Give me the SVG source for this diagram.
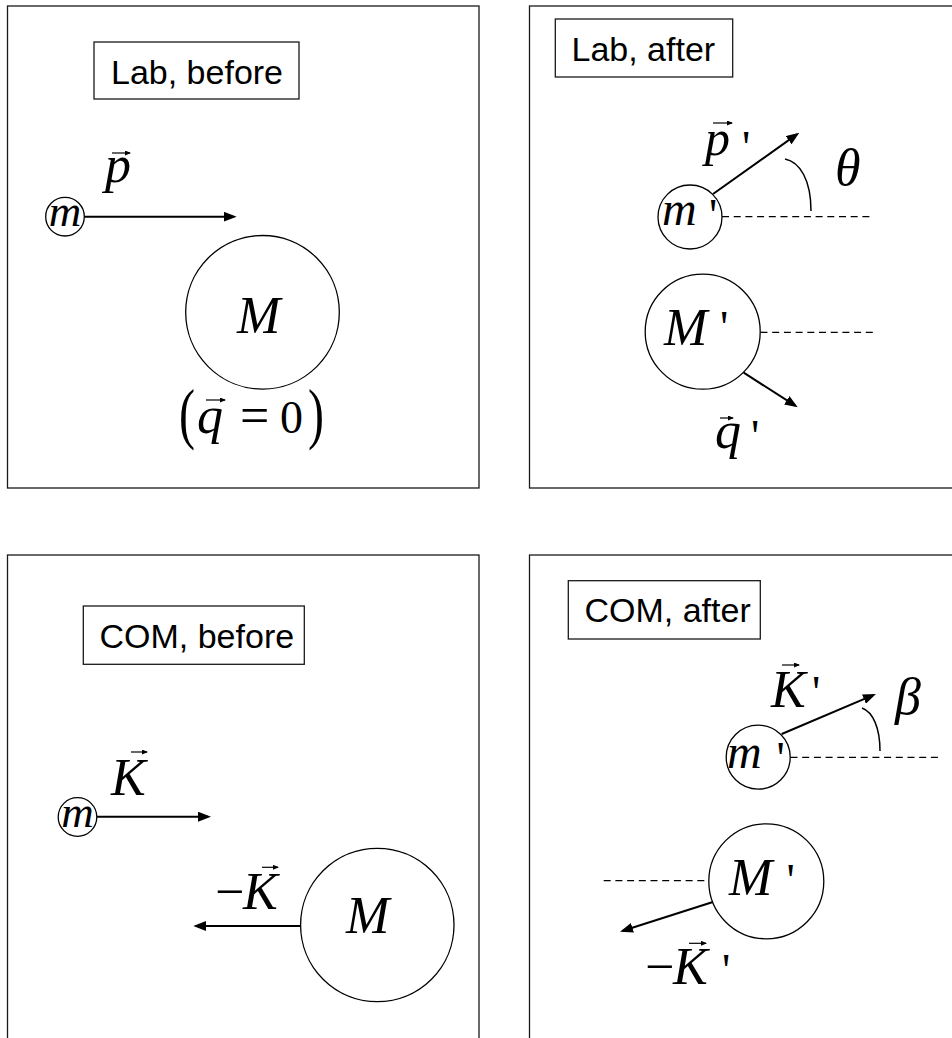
<svg xmlns="http://www.w3.org/2000/svg" width="952" height="1038" viewBox="0 0 952 1038">
<style>
.frame{fill:none;stroke:#1a1a1a;stroke-width:1.3}
.box{fill:#fff;stroke:#1a1a1a;stroke-width:1.3}
.lbl{font-family:"Liberation Sans",Arial,sans-serif;font-size:34px;fill:#000}
.ball{fill:#fff;stroke:#000;stroke-width:1.3}
.mi{font-family:"Liberation Serif","Times New Roman",serif;font-style:italic;font-size:52px;fill:#000}
.mr{font-family:"Liberation Serif","Times New Roman",serif;font-size:52px;fill:#000}
.ap{font-family:"Liberation Serif","Times New Roman",serif;font-size:46px;fill:#000}
.vec{stroke:#000;stroke-width:2;fill:none;marker-end:url(#ah)}
.acc{stroke:#000;stroke-width:1.2;fill:none;marker-end:url(#ah2)}
.dash{stroke:#000;stroke-width:1.3;stroke-dasharray:7 4.7;fill:none}
.arc{fill:none;stroke:#000;stroke-width:1.5}
</style>
<defs>
<marker id="ah" markerUnits="userSpaceOnUse" viewBox="0 0 13 10" markerWidth="13" markerHeight="10" refX="10" refY="5" orient="auto"><path d="M0,0 L13,5 L0,10 z" fill="#000"/></marker>
<marker id="ah2" markerUnits="userSpaceOnUse" viewBox="0 0 6 5" markerWidth="6" markerHeight="5" refX="5" refY="2.5" orient="auto"><path d="M0,0 L6,2.5 L0,5 z" fill="#000"/></marker>
</defs>
<rect width="952" height="1038" fill="#fff"/>

<!-- Panel frames -->
<g id="frames">
<rect class="frame" x="7.5" y="6" width="471.5" height="482"/>
<rect class="frame" x="529.5" y="6" width="440" height="482"/>
<rect class="frame" x="7.5" y="555" width="471.5" height="500"/>
<rect class="frame" x="529.5" y="555" width="440" height="500"/>
</g>

<!-- Connectors -->
<g id="connectors">
<line class="vec" x1="84.3" y1="216.7" x2="233.7" y2="216.7"/>
<line class="vec" x1="713" y1="194" x2="796.8" y2="134.4"/>
<line class="vec" x1="743.7" y1="372.7" x2="795.2" y2="405.7"/>
<line class="vec" x1="96.7" y1="816.7" x2="208" y2="816.7"/>
<line class="vec" x1="301" y1="926" x2="196.3" y2="926"/>
<line class="vec" x1="781.7" y1="734" x2="873.2" y2="695.2"/>
<line class="vec" x1="716" y1="901" x2="622.9" y2="930.8"/>
<line class="dash" x1="722" y1="216.7" x2="873" y2="216.7"/>
<line class="dash" x1="760.5" y1="332.3" x2="877" y2="332.3"/>
<line class="dash" x1="790.5" y1="757.3" x2="941" y2="757.3"/>
<line class="dash" x1="603.7" y1="880.7" x2="708.3" y2="880.7"/>
<path class="arc" d="M785,159 C800,162 811,180 811,211"/>
<path class="arc" d="M862,708 C873,712 880,728 880,751"/>
</g>

<!-- Panel 1: Lab, before -->
<g id="lab-before-label">
<rect class="box" x="94" y="42" width="205" height="57"/>
<text class="lbl" x="111" y="83.5">Lab, before</text>
</g>
<g id="lab-before-m">
<circle class="ball" cx="65" cy="216.7" r="19.3"/>
<text class="mi" x="65" y="225.5" text-anchor="middle" style="font-size:45px">m</text>
</g>
<g id="lab-before-p">
<text class="mi" x="105" y="181.5">p</text>
<line class="acc" x1="112" y1="153" x2="130" y2="153"/>
</g>
<g id="lab-before-M">
<circle class="ball" cx="262.5" cy="312.3" r="76.8"/>
<text class="mi" x="237" y="333.3">M</text>
</g>
<g id="lab-before-q">
<text class="mr" x="179" y="311.6" transform="scale(1,1.4)" style="font-size:48px">(</text>
<text class="mi" x="197" y="433">q</text>
<line class="acc" x1="206" y1="400" x2="225" y2="400"/>
<text class="mr" x="240" y="433">=</text>
<text class="mr" x="280" y="433" style="font-size:46px">0</text>
<text class="mr" x="308" y="311.6" transform="scale(1,1.4)" style="font-size:48px">)</text>
</g>

<!-- Panel 2: Lab, after -->
<g id="lab-after-label">
<rect class="box" x="555.3" y="19" width="177.4" height="58"/>
<text class="lbl" x="571.5" y="60.5">Lab, after</text>
</g>
<g id="lab-after-m">
<circle class="ball" cx="690" cy="217" r="32"/>
<text class="mi" x="662" y="225" style="font-size:48px">m</text>
<text class="ap" x="709" y="231">'</text>
</g>
<g id="lab-after-p">
<text class="mi" x="705" y="155" style="font-size:50px">p</text>
<line class="acc" x1="713" y1="123" x2="732" y2="123"/>
<text class="ap" x="742" y="163">'</text>
</g>
<g id="lab-after-theta">
<text class="mi" x="835" y="185">θ</text>
</g>
<g id="lab-after-M">
<circle class="ball" cx="702.7" cy="331.7" r="57.5"/>
<text class="mi" x="664" y="345">M</text>
<text class="ap" x="720" y="343">'</text>
</g>
<g id="lab-after-q">
<text class="mi" x="715" y="448">q</text>
<line class="acc" x1="720" y1="418" x2="733" y2="418"/>
<text class="ap" x="751" y="452">'</text>
</g>

<!-- Panel 3: COM, before -->
<g id="com-before-label">
<rect class="box" x="83.3" y="606" width="221" height="58.3"/>
<text class="lbl" x="99.5" y="647.5">COM, before</text>
</g>
<g id="com-before-m">
<circle class="ball" cx="77.5" cy="817" r="19.3"/>
<text class="mi" x="77.5" y="826.5" text-anchor="middle" style="font-size:45px">m</text>
</g>
<g id="com-before-K">
<text class="mi" x="111" y="795">K</text>
<line class="acc" x1="131" y1="752" x2="147" y2="752"/>
</g>
<g id="com-before-M">
<circle class="ball" cx="377.3" cy="925" r="76.7"/>
<text class="mi" x="346" y="933.3">M</text>
</g>
<g id="com-before-negK">
<text class="mr" x="215" y="909.3">−</text>
<text class="mi" x="243" y="909.3">K</text>
<line class="acc" x1="262" y1="867.3" x2="278" y2="867.3"/>
</g>

<!-- Panel 4: COM, after -->
<g id="com-after-label">
<rect class="box" x="568.3" y="580.7" width="192" height="58.3"/>
<text class="lbl" x="584.5" y="622">COM, after</text>
</g>
<g id="com-after-m">
<circle class="ball" cx="758.2" cy="757.2" r="32"/>
<text class="mi" x="727" y="768.3" style="font-size:48px">m</text>
<text class="ap" x="776.5" y="774">'</text>
</g>
<g id="com-after-K">
<text class="mi" x="771" y="706.7">K</text>
<line class="acc" x1="782" y1="665" x2="799" y2="665"/>
<text class="ap" x="812" y="708">'</text>
</g>
<g id="com-after-beta">
<text class="mi" x="895" y="714">β</text>
</g>
<g id="com-after-M">
<circle class="ball" cx="766.3" cy="881.3" r="57.5"/>
<text class="mi" x="729" y="895">M</text>
<text class="ap" x="786.5" y="896">'</text>
</g>
<g id="com-after-negK">
<text class="mr" x="645" y="984.3">−</text>
<text class="mi" x="673" y="984.3">K</text>
<line class="acc" x1="689" y1="943.3" x2="706" y2="943.3"/>
<text class="ap" x="722" y="986">'</text>
</g>
</svg>
